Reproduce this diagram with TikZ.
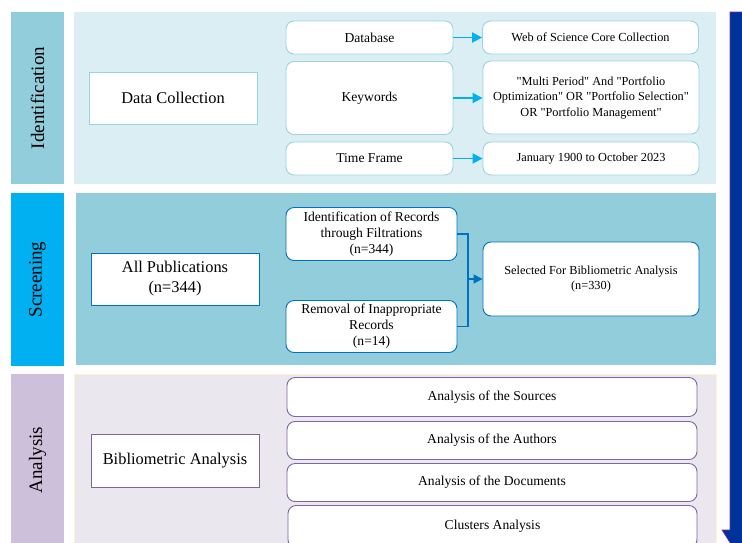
\documentclass[tikz,border=0pt]{standalone}
\usepackage{fontspec}
\setmainfont{Liberation Serif}[Ligatures=TeXOff]
\usetikzlibrary{arrows.meta}

\definecolor{idlab}{HTML}{92CDDC}
\definecolor{idband}{HTML}{DAEEF3}
\definecolor{idline}{HTML}{9CD3E1}
\definecolor{sclab}{HTML}{00B0F0}
\definecolor{scband}{HTML}{92CDDC}
\definecolor{scline}{HTML}{0070C0}
\definecolor{anlab}{HTML}{CCC0DA}
\definecolor{anband}{HTML}{EAE7EF}
\definecolor{anedge}{HTML}{FFF2CC}
\definecolor{anline}{HTML}{8064A2}
\definecolor{flow}{HTML}{003399}
\definecolor{flowedge}{HTML}{7030A0}
\definecolor{cyanarrow}{HTML}{00B0F0}

\tikzset{
  x=1pt, y=-1pt,
  phaselabel/.style={rotate=90, inner sep=0pt, font=\fontsize{19}{22}\selectfont},
  bigbox/.style={draw, fill=white, line width=0.9pt, inner sep=2pt, align=center,
                 font=\fontsize{16.4}{20}\selectfont},
  roundbox/.style={draw, fill=white, rounded corners=8pt, line width=0.9pt, inner sep=2pt,
                   align=center},
  smallfont/.style={font=\fontsize{12.3}{15.5}\selectfont},
  midfont/.style={font=\fontsize{13.6}{16.5}\selectfont},
  idarrow/.style={cyanarrow, line width=1.8pt, -{Triangle[length=10pt,width=10pt]}},
  scarrow/.style={scline, line width=1.2pt},
}

\begin{document}
\begin{tikzpicture}
\useasboundingbox (0,0) rectangle (742,542);
\clip (0,0) rectangle (742,542);
\fill[white] (0,0) rectangle (742,542);

% phase bands
\fill[idband] (74,12) rectangle (716,184);
\fill[scband] (76,193) rectangle (716,365);
\filldraw[fill=anband, draw=anedge, line width=0.8pt] (74,374) rectangle (716,560);

% phase labels
\fill[idlab] (11,12) rectangle (64,184);
\fill[sclab] (11,193) rectangle (64,366);
\fill[anlab] (11,374) rectangle (64,560);
\node[phaselabel] (lid) at (37.5,98) {Identification};
\node[phaselabel] (lsc) at (37.5,279.5) {Screening};
\node[phaselabel] (lan) at (37.5,460) {Analysis};

% Identification
\node[bigbox, draw=idline, minimum width=168pt, minimum height=52pt] (dc) at (173,98) {Data Collection};
\node[roundbox, draw=idline, midfont, minimum width=167pt, minimum height=33pt] (db) at (369.5,37.5) {Database};
\node[roundbox, draw=idline, smallfont, minimum width=216pt, minimum height=33pt] (wos) at (590.5,37.5) {Web of Science Core Collection};
\node[roundbox, draw=idline, midfont, minimum width=167pt, minimum height=73pt] (kw) at (369.5,98) {\strut Keywords};
\node[roundbox, draw=idline, smallfont, minimum width=216pt, minimum height=73pt] (mp) at (591,97.5)
  {"Multi Period" And "Portfolio\\Optimization" OR "Portfolio Selection"\\OR "Portfolio Management"};
\node[roundbox, draw=idline, midfont, minimum width=167pt, minimum height=33pt] (tf) at (369.5,158.5) {Time Frame};
\node[roundbox, draw=idline, smallfont, minimum width=216pt, minimum height=33pt] (jan) at (591,158.5) {January 1900 to October 2023};
\draw[idarrow] (db.east) -- (wos.west |- db.east);
\draw[idarrow] (kw.east) -- (mp.west |- kw.east);
\draw[idarrow] (tf.east) -- (jan.west |- tf.east);

% Screening
\node[bigbox, draw=scline, minimum width=168pt, minimum height=52pt] (ap) at (175,279) {All Publications\\(n=344)};
\node[roundbox, draw=scline, minimum width=171pt, minimum height=53pt, font=\fontsize{13.6}{16}\selectfont] (ir) at (371.5,234)
  {Identification of Records\\through Filtrations\\(n=344)};
\node[roundbox, draw=scline, minimum width=171pt, minimum height=52pt, font=\fontsize{13.6}{16}\selectfont] (rm) at (371.5,326.5)
  {Removal of Inappropriate\\Records\\(n=14)};
\node[roundbox, draw=scline, smallfont, minimum width=216pt, minimum height=74pt] (sel) at (591,279)
  {Selected For Bibliometric Analysis\\(n=330)};
\coordinate (join) at (468,279);
\draw[scarrow] (ir.east) -| (join);
\draw[scarrow] (rm.east) -| (join);
\draw[scarrow, -{Triangle[length=9pt,width=9pt]}] (join) -- (sel.west);

% Analysis
\node[bigbox, draw=anline, minimum width=168pt, minimum height=53pt] (ba) at (175,460.5) {Bibliometric Analysis};
\node[roundbox, draw=anline, midfont, minimum width=410pt, minimum height=39pt] (s1) at (492,397) {Analysis of the Sources};
\node[roundbox, draw=anline, midfont, minimum width=410pt, minimum height=38pt] (s2) at (492,440.5) {Analysis of the Authors};
\node[roundbox, draw=anline, midfont, minimum width=410pt, minimum height=38pt] (s3) at (492,482.5) {Analysis of the Documents};
\node[roundbox, draw=anline, midfont, minimum width=409pt, minimum height=42pt] (s4) at (492.5,526.5) {Clusters Analysis};

% process flow arrow
\filldraw[fill=flow, draw=flowedge, line width=0.6pt]
  (730,12) -- (752,12) -- (752,530) -- (760,530) -- (741,560) -- (722,530) -- (730,530) -- cycle;
\end{tikzpicture}
\end{document}
